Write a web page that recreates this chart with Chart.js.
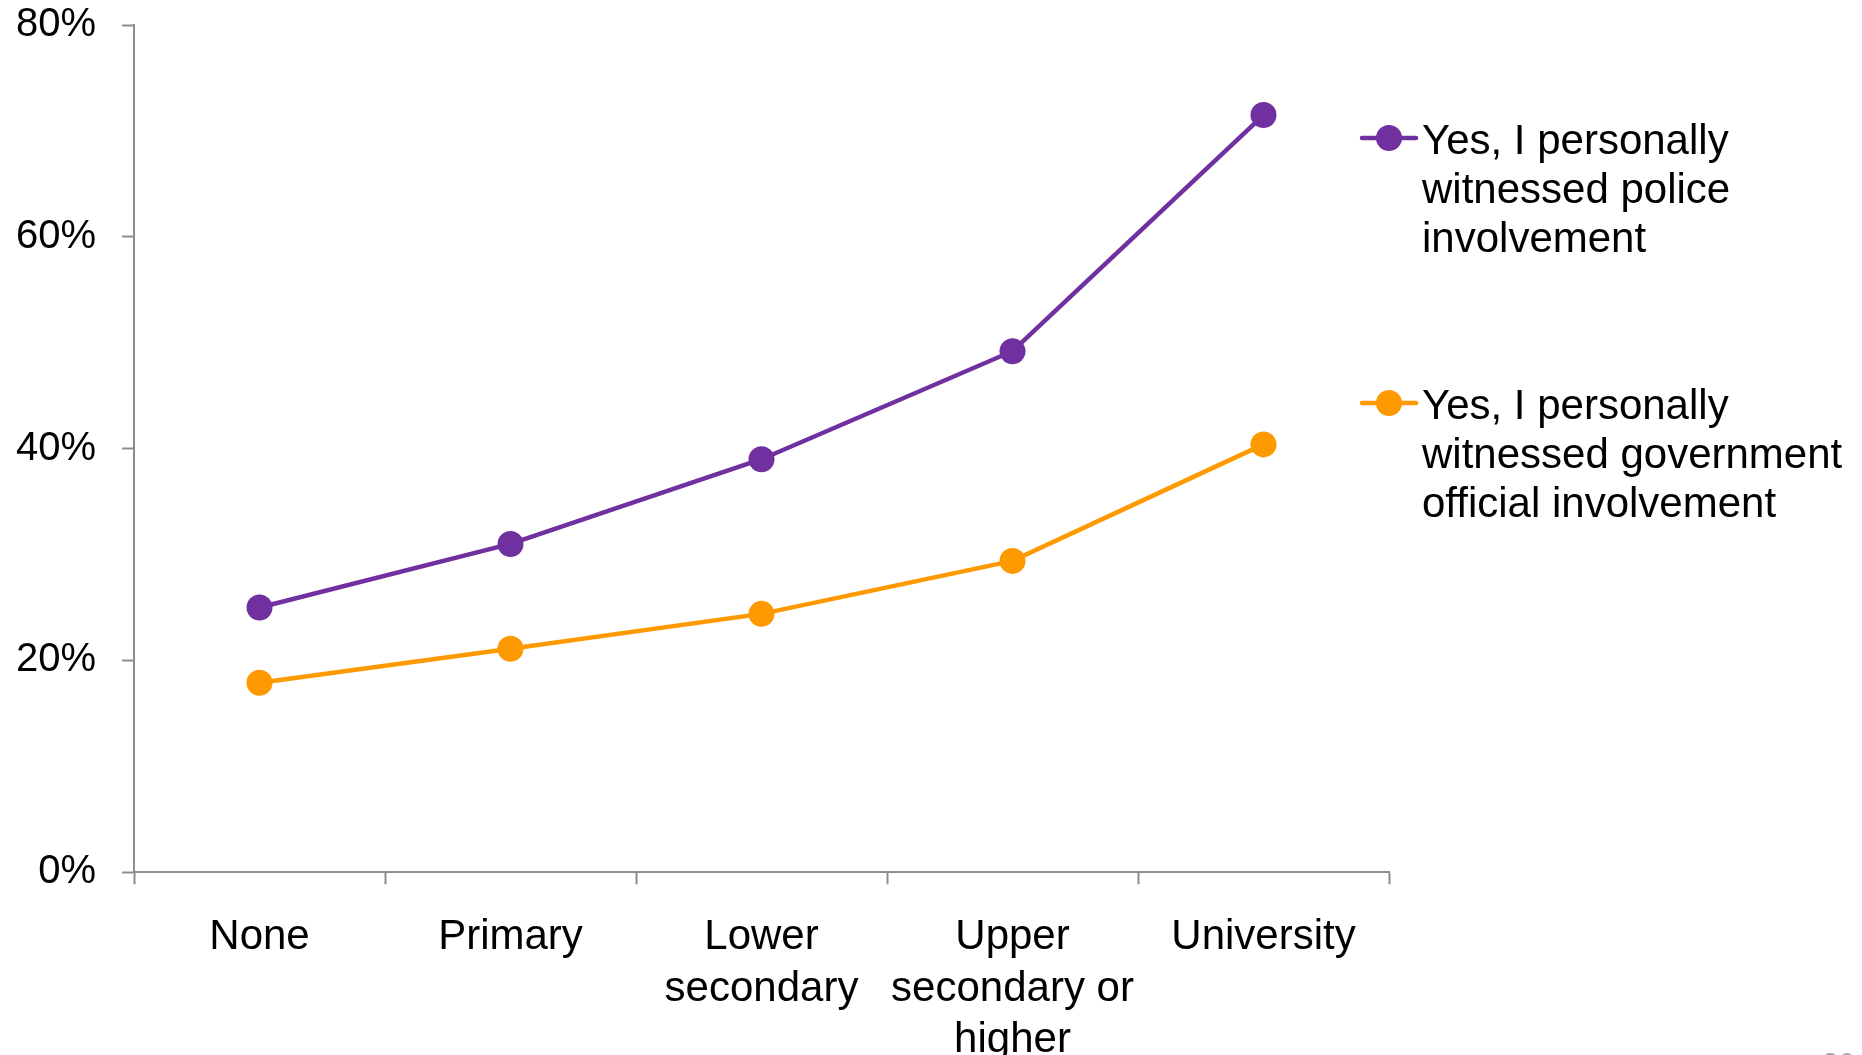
<!DOCTYPE html>
<html lang="en">

<head>
	<meta charset="utf-8">
	<title>Witnessed involvement by education</title>
	<script src="https://cdn.jsdelivr.net/npm/chart.js"></script>
	<style>
		html, body { margin: 0; padding: 0; background: #ffffff; }
		.chart-box { position: relative; width: 1862px; height: 1055px; }
	</style>
</head>

<body>
	<div class="chart-box">
		<canvas id="educationChart" width="1862" height="1055"></canvas>
	</div>

<script>
const categories = ["None", "Primary", ["Lower", "secondary"], ["Upper", "secondary or", "higher"], "University"];
const policeValues = [25.0, 31.0, 39.0, 49.2, 71.5];
const officialValues = [17.9, 21.1, 24.4, 29.4, 40.4];
const yTicks = [0, 20, 40, 60, 80];
const seriesNames = [
	["Yes, I personally", "witnessed police", "involvement"],
	["Yes, I personally", "witnessed government", "official involvement"]
];
const seriesColors = ["#7030a0", "#ff9900"];

const fontFamily = "'Liberation Sans', Arial, sans-serif";
const axisGray = "#8c8c8c";

// legend drawn on the right, lines of text wrapped like the original
const sideLegend = {
	id: "sideLegend",
	afterDraw(chart) {
		const ctx = chart.ctx;
		const tops = [138, 403];
		ctx.save();
		ctx.font = "42px " + fontFamily;
		ctx.textBaseline = "middle";
		ctx.textAlign = "left";
		chart.data.datasets.forEach((ds, i) => {
			const y = tops[i];
			ctx.strokeStyle = ds.borderColor;
			ctx.lineWidth = 4.5;
			ctx.lineCap = "round";
			ctx.beginPath();
			ctx.moveTo(1362, y);
			ctx.lineTo(1416, y);
			ctx.stroke();
			ctx.fillStyle = ds.borderColor;
			ctx.beginPath();
			ctx.arc(1389, y, 13, 0, Math.PI * 2);
			ctx.fill();
			ctx.fillStyle = "#000000";
			seriesNames[i].forEach((line, j) => {
				ctx.fillText(line, 1422, y + 4 + j * 49);
			});
		});
		// page number, cut off at the bottom edge
		ctx.fillStyle = "#a6a6a6";
		ctx.font = "30px " + fontFamily;
		ctx.textBaseline = "top";
		ctx.fillText("20", 1822, 1050);
		ctx.restore();
	}
};

document.addEventListener("DOMContentLoaded", function () {
	new Chart(document.getElementById("educationChart"), {
		type: "line",
		data: {
			labels: categories,
			datasets: [{
				label: seriesNames[0].join(" "),
				data: policeValues,
				borderColor: seriesColors[0],
				backgroundColor: seriesColors[0],
				borderWidth: 4.5,
				pointRadius: 13,
				pointBorderWidth: 0,
				pointHoverRadius: 13,
				tension: 0
			}, {
				label: seriesNames[1].join(" "),
				data: officialValues,
				borderColor: seriesColors[1],
				backgroundColor: seriesColors[1],
				borderWidth: 4.5,
				pointRadius: 13,
				pointBorderWidth: 0,
				pointHoverRadius: 13,
				tension: 0
			}]
		},
		options: {
			responsive: false,
			animation: false,
			layout: {
				autoPadding: false,
				padding: { left: 14, right: 473, top: 25, bottom: -39 }
			},
			plugins: {
				legend: { display: false },
				tooltip: { enabled: false }
			},
			scales: {
				x: {
					offset: true,
					grid: {
						offset: true,
						drawOnChartArea: false,
						color: axisGray,
						tickLength: 12,
						tickWidth: 2
					},
					border: { color: axisGray, width: 2 },
					ticks: {
						color: "#000000",
						padding: 28,
						maxRotation: 0,
						autoSkip: false,
						font: { family: fontFamily, size: 42, lineHeight: 1.22 }
					}
				},
				y: {
					min: 0,
					max: 80,
					afterBuildTicks: axis => {
						axis.ticks = yTicks.map(v => ({ value: v }));
					},
					afterFit: axis => {
						// fixed axis width, and no extra room above/below for the labels
						axis.width = 120;
						axis.paddingTop = 0;
						axis.paddingBottom = 0;
					},
					grid: {
						drawOnChartArea: false,
						color: axisGray,
						tickLength: 12,
						tickWidth: 2
					},
					border: { color: axisGray, width: 2 },
					ticks: {
						color: "#000000",
						padding: 26,
						callback: v => v + "%",
						font: { family: fontFamily, size: 40 }
					}
				}
			}
		},
		plugins: [sideLegend]
	});
});
</script>

</body>

</html>
